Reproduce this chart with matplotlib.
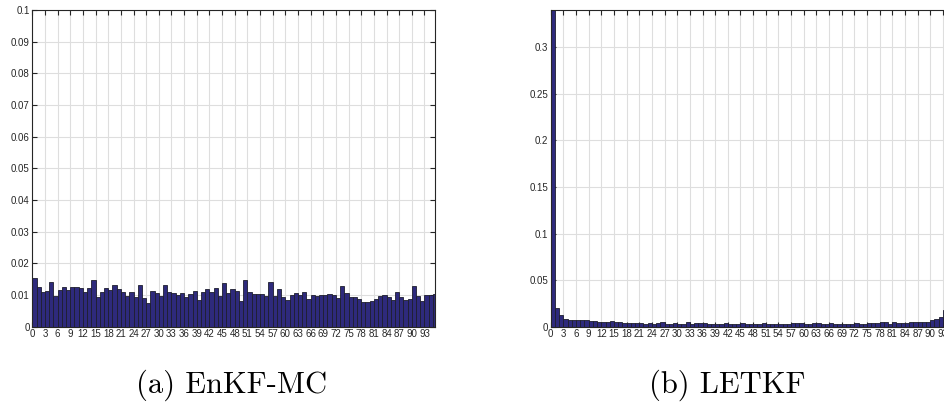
import matplotlib
matplotlib.use("Agg")
import matplotlib.pyplot as plt
import numpy as np

# Rank histograms (relative frequency per rank bin)
ranks = list(range(96))

enkf_mc = [
    0.0153, 0.0126, 0.0109, 0.0114, 0.0140, 0.0098, 0.0116, 0.0126, 0.0115, 0.0126,
    0.0125, 0.0121, 0.0109, 0.0121, 0.0147, 0.0095, 0.0111, 0.0121, 0.0116, 0.0132,
    0.0118, 0.0111, 0.0097, 0.0109, 0.0095, 0.0133, 0.0092, 0.0076, 0.0113, 0.0106,
    0.0097, 0.0132, 0.0111, 0.0105, 0.0100, 0.0107, 0.0095, 0.0103, 0.0114, 0.0083,
    0.0111, 0.0119, 0.0111, 0.0121, 0.0098, 0.0138, 0.0106, 0.0119, 0.0112, 0.0081,
    0.0148, 0.0108, 0.0103, 0.0104, 0.0104, 0.0097, 0.0141, 0.0098, 0.0119, 0.0095,
    0.0084, 0.0099, 0.0105, 0.0100, 0.0109, 0.0088, 0.0100, 0.0098, 0.0101, 0.0100,
    0.0104, 0.0100, 0.0092, 0.0127, 0.0105, 0.0093, 0.0095, 0.0087, 0.0077, 0.0077,
    0.0080, 0.0087, 0.0097, 0.0101, 0.0095, 0.0084, 0.0109, 0.0094, 0.0083, 0.0088,
    0.0128, 0.0098, 0.0080, 0.0100, 0.0100, 0.0103,
]

letkf = [
    0.3600, 0.0198, 0.0121, 0.0084, 0.0076, 0.0071, 0.0070, 0.0069, 0.0073, 0.0062,
    0.0060, 0.0054, 0.0053, 0.0053, 0.0056, 0.0046, 0.0046, 0.0041, 0.0041, 0.0038,
    0.0036, 0.0045, 0.0034, 0.0041, 0.0024, 0.0035, 0.0046, 0.0034, 0.0031, 0.0040,
    0.0034, 0.0033, 0.0046, 0.0034, 0.0045, 0.0042, 0.0036, 0.0026, 0.0032, 0.0033,
    0.0031, 0.0045, 0.0030, 0.0028, 0.0027, 0.0036, 0.0030, 0.0031, 0.0028, 0.0034,
    0.0039, 0.0031, 0.0026, 0.0024, 0.0034, 0.0030, 0.0026, 0.0041, 0.0040, 0.0040,
    0.0030, 0.0033, 0.0038, 0.0043, 0.0025, 0.0033, 0.0035, 0.0034, 0.0033, 0.0029,
    0.0031, 0.0033, 0.0035, 0.0026, 0.0030, 0.0035, 0.0040, 0.0045, 0.0053, 0.0048,
    0.0034, 0.0048, 0.0044, 0.0043, 0.0045, 0.0047, 0.0050, 0.0053, 0.0053, 0.0055,
    0.0070, 0.0081, 0.0106, 0.0176, 0.0260, 0.0450,
]

xticks = list(range(0, 94, 3))
yticks_a = [0, 0.01, 0.02, 0.03, 0.04, 0.05, 0.06, 0.07, 0.08, 0.09, 0.1]
ylabels_a = ["0", "0.01", "0.02", "0.03", "0.04", "0.05", "0.06", "0.07", "0.08", "0.09", "0.1"]
yticks_b = [0, 0.05, 0.1, 0.15, 0.2, 0.25, 0.3]
ylabels_b = ["0", "0.05", "0.1", "0.15", "0.2", "0.25", "0.3"]

captions = ["(a) EnKF-MC", "(b) LETKF"]

W, H = 945, 417
fig = plt.figure(figsize=(W / 100, H / 100), dpi=100)
fig.patch.set_facecolor("white")

bar_face = "#2e2a7c"
bar_edge = "#1e1e2e"
frame_col = "#262626"


def px_axes(x0, x1, y0, y1):
    return fig.add_axes([x0 / W, 1 - y1 / H, (x1 - x0) / W, (y1 - y0) / H])


def draw_hist(ax, values, yticks, ylabels, ymax):
    ax.bar(ranks, values, width=1.0, align="edge", color=bar_face,
           edgecolor=bar_edge, linewidth=0.6, zorder=2)
    ax.set_xlim(0, 95.5)
    ax.set_ylim(0, ymax)
    ax.set_xticks(xticks)
    ax.set_xticklabels([str(t) for t in xticks], fontsize=7.0,
                       family="Liberation Sans", color=frame_col)
    ax.set_yticks(yticks)
    ax.set_yticklabels(ylabels, fontsize=7.0, family="Liberation Sans",
                       color=frame_col)
    ax.grid(True, color="#dedede", linewidth=0.8, zorder=0)
    ax.set_axisbelow(True)
    ax.tick_params(direction="in", length=3.5, width=0.8, color=frame_col,
                   top=True, right=True, pad=2)
    for s in ax.spines.values():
        s.set_color(frame_col)
        s.set_linewidth(0.8)


ax_a = px_axes(32.3, 435, 10, 326.7)
draw_hist(ax_a, enkf_mc, yticks_a, ylabels_a, 0.1)

# right panel runs past the figure edge, as in the original layout
ax_b = px_axes(550.7, 953.4, 10, 326.7)
draw_hist(ax_b, letkf, yticks_b, ylabels_b, 0.34)

fig.text(232 / W, 1 - 385 / H, captions[0], family="cmr10", fontsize=22,
         ha="center", va="center", color="black")
fig.text(727 / W, 1 - 385 / H, captions[1], family="cmr10", fontsize=22,
         ha="center", va="center", color="black")

fig.savefig("out.png", dpi=100)
